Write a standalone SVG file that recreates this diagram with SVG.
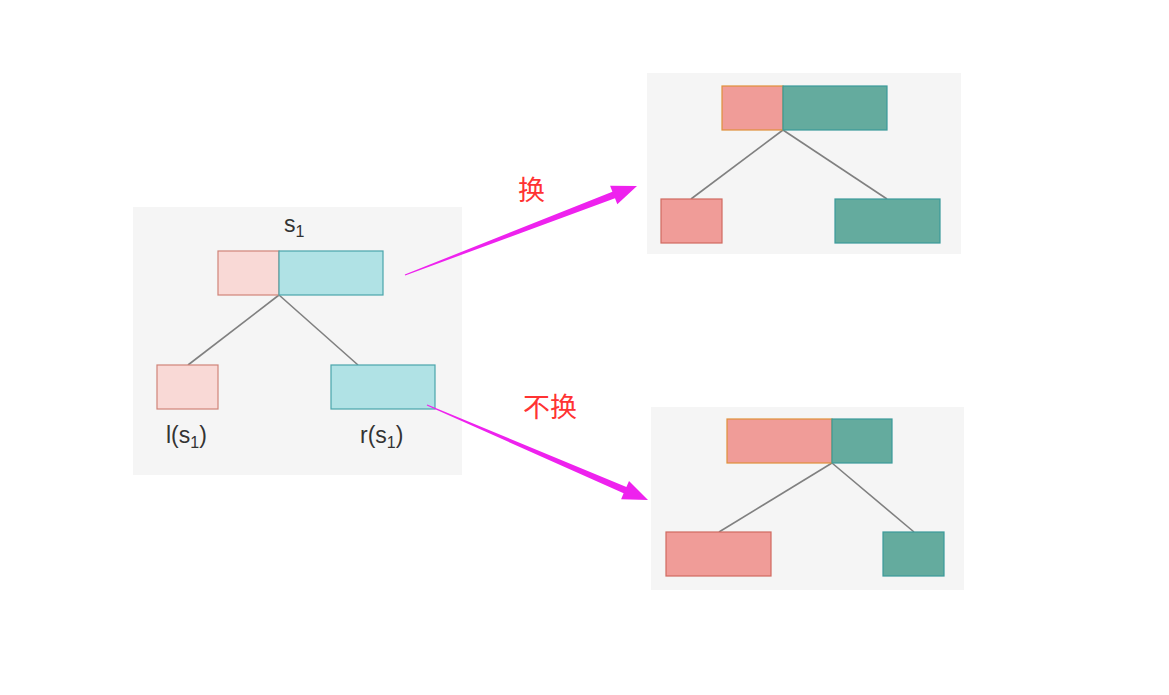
<svg xmlns="http://www.w3.org/2000/svg" width="1169" height="695" viewBox="0 0 1169 695">
<style>
.panel{fill:#f5f5f5}
.pl{fill:#f9d9d6;stroke:#d08478;stroke-width:1.2}
.tl{fill:#b0e2e5;stroke:#4aa5ab;stroke-width:1.2}
.pd{fill:#f09c98;stroke:#d06a60;stroke-width:1.2}
.po{fill:#f09c98;stroke:#e0903a;stroke-width:1.2}
.td{fill:#64ab9e;stroke:#3a9a9a;stroke-width:1.2}
.edge{stroke:#808080;stroke-width:1.6;fill:none}
.lbl{font-family:"Liberation Sans",Arial,sans-serif;font-size:23px;fill:#333}
.zh{font-family:"Noto Sans CJK SC","Liberation Sans",sans-serif;font-size:27px;fill:#ff3333}
.arrow{fill:#ee22ee}
</style>
<rect width="1169" height="695" fill="#ffffff"/>
<g id="panel-s1">
<rect class="panel" x="133" y="207" width="329" height="268"/>
<text class="lbl" x="284" y="232">s<tspan font-size="16" dy="5">1</tspan></text>
<line class="edge" x1="279" y1="295" x2="188" y2="365"/>
<line class="edge" x1="279" y1="295" x2="358" y2="365"/>
<rect class="pl" x="218" y="251" width="61" height="44"/>
<rect class="tl" x="279" y="251" width="104" height="44"/>
<rect class="pl" x="157" y="365" width="61" height="44"/>
<rect class="tl" x="331" y="365" width="104" height="44"/>
<text class="lbl" x="166" y="443">l(s<tspan font-size="16" dy="5">1</tspan><tspan dy="-5">)</tspan></text>
<text class="lbl" x="360" y="443">r(s<tspan font-size="16" dy="5">1</tspan><tspan dy="-5">)</tspan></text>
</g>
<g id="panel-swap">
<rect class="panel" x="647" y="73" width="314" height="181"/>
<line class="edge" x1="783" y1="130" x2="691" y2="199"/>
<line class="edge" x1="783" y1="130" x2="887" y2="199"/>
<rect class="po" x="722" y="86" width="61" height="44"/>
<rect class="td" x="783" y="86" width="104" height="44"/>
<rect class="pd" x="661" y="199" width="61" height="44"/>
<rect class="td" x="835" y="199" width="105" height="44"/>
</g>
<g id="panel-noswap">
<rect class="panel" x="651" y="407" width="313" height="183"/>
<line class="edge" x1="832" y1="463" x2="719" y2="532"/>
<line class="edge" x1="832" y1="463" x2="914" y2="532"/>
<rect class="po" x="727" y="419" width="105" height="44"/>
<rect class="td" x="832" y="419" width="60" height="44"/>
<rect class="pd" x="666" y="532" width="105" height="44"/>
<rect class="td" x="883" y="532" width="61" height="44"/>
</g>
<g id="connectors">
<polygon class="arrow" points="405.2,275.5 615,198.3 617.3,204.3 637,186 610.1,185.7 612.4,191.7 404.8,274.5"/>
<polygon class="arrow" points="427.2,404.5 626.4,486.9 629,480.9 648,500 621.1,499.3 623.6,493.3 426.8,405.5"/>
<text class="zh" x="518" y="200">换</text>
<text class="zh" x="523" y="417">不换</text>
</g>
</svg>
